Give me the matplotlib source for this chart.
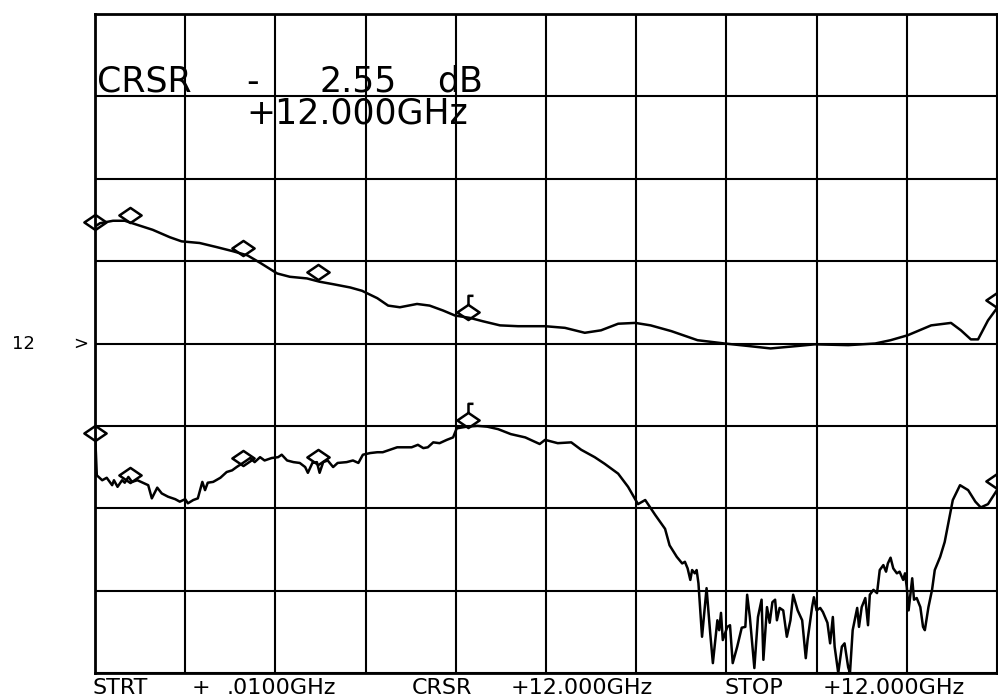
import numpy as np
import matplotlib
matplotlib.use("Agg")
import matplotlib.pyplot as plt
from matplotlib.path import Path

# screen is 10 x 8 divisions, values below are read in divisions
upper_x = [0.00, 0.055, 0.20, 0.33, 0.47, 0.64, 0.83, 0.96, 1.16, 1.35, 1.53, 1.69, 1.83, 2.02,
           2.16, 2.35, 2.49, 2.64, 2.83, 2.96, 3.13, 3.25, 3.38, 3.57, 3.71, 3.86, 3.99, 4.16,
           4.30, 4.49, 4.69, 4.99, 5.21, 5.43, 5.61, 5.80, 5.99, 6.16, 6.39, 6.68, 6.98, 7.24,
           7.49, 7.79, 7.98, 8.35, 8.65, 8.82, 9.01, 9.27, 9.49, 9.60, 9.71, 9.79, 9.90, 10.0]
upper_y = [5.42, 5.46, 5.49, 5.49, 5.44, 5.38, 5.29, 5.24, 5.22, 5.17, 5.12, 5.07, 4.98, 4.85,
           4.81, 4.79, 4.75, 4.72, 4.68, 4.64, 4.55, 4.46, 4.44, 4.48, 4.46, 4.40, 4.34, 4.31,
           4.27, 4.22, 4.21, 4.21, 4.19, 4.13, 4.16, 4.24, 4.25, 4.22, 4.15, 4.04, 4.00, 3.97,
           3.94, 3.97, 3.99, 3.98, 4.00, 4.04, 4.10, 4.22, 4.25, 4.16, 4.05, 4.05, 4.28, 4.43]

lower_x = [0.00, 0.01, 0.02, 0.08, 0.13, 0.19, 0.21, 0.25, 0.30, 0.33, 0.37, 0.41, 0.47, 0.53,
           0.59, 0.63, 0.69, 0.74, 0.81, 0.89, 0.94, 1.00, 1.03, 1.09, 1.14, 1.19, 1.22, 1.25,
           1.31, 1.39, 1.46, 1.52, 1.57, 1.64, 1.72, 1.77, 1.83, 1.88, 1.96, 2.03, 2.07, 2.13,
           2.20, 2.27, 2.33, 2.36, 2.41, 2.46, 2.49, 2.53, 2.58, 2.64, 2.69, 2.79, 2.86, 2.92,
           2.97, 3.05, 3.13, 3.19, 3.27, 3.35, 3.44, 3.51, 3.58, 3.64, 3.69, 3.75, 3.82, 3.90,
           3.97, 4.01, 4.12, 4.24, 4.35, 4.47, 4.61, 4.77, 4.93, 4.99, 5.13, 5.28, 5.39, 5.54,
           5.65, 5.80, 5.91, 6.02, 6.10, 6.21, 6.32,
           6.37, 6.45, 6.51, 6.54, 6.57, 6.60, 6.62, 6.65, 6.67, 6.69, 6.73, 6.76, 6.78, 6.82,
           6.85, 6.90, 6.92, 6.94, 6.96, 7.01, 7.04, 7.07, 7.12, 7.17, 7.21, 7.23, 7.26, 7.31,
           7.35, 7.39, 7.41, 7.45, 7.48, 7.51, 7.54, 7.56, 7.59, 7.63, 7.67, 7.71, 7.74, 7.79,
           7.84, 7.88, 7.90, 7.95, 7.97, 8.00, 8.04, 8.07, 8.12, 8.15, 8.18, 8.20, 8.24, 8.28,
           8.31, 8.35, 8.37, 8.40, 8.45, 8.47, 8.50, 8.54, 8.57, 8.59, 8.63, 8.67, 8.70, 8.74,
           8.77, 8.79, 8.82, 8.85, 8.89, 8.92, 8.96, 8.98, 9.00, 9.02, 9.06, 9.08, 9.11, 9.15,
           9.18, 9.20, 9.24, 9.28, 9.31, 9.37, 9.42,
           9.51, 9.59, 9.68, 9.76, 9.82, 9.90, 10.0]
lower_y = [2.91, 2.67, 2.40, 2.34, 2.37, 2.28, 2.34, 2.26, 2.34, 2.31, 2.38, 2.32, 2.34, 2.31,
           2.28, 2.12, 2.25, 2.18, 2.14, 2.11, 2.08, 2.11, 2.06, 2.10, 2.12, 2.32, 2.22, 2.31,
           2.32, 2.37, 2.44, 2.46, 2.50, 2.55, 2.61, 2.56, 2.62, 2.58, 2.61, 2.62, 2.65, 2.58,
           2.56, 2.55, 2.50, 2.43, 2.55, 2.56, 2.43, 2.56, 2.58, 2.50, 2.55, 2.56, 2.58, 2.55,
           2.65, 2.67, 2.68, 2.68, 2.71, 2.74, 2.74, 2.74, 2.77, 2.73, 2.74, 2.80, 2.79, 2.83,
           2.86, 2.97, 2.99, 3.00, 2.99, 2.96, 2.90, 2.86, 2.78, 2.83, 2.79, 2.80, 2.71, 2.62,
           2.54, 2.42, 2.26, 2.05, 2.10, 1.92, 1.75,
           1.55, 1.41, 1.33, 1.35, 1.27, 1.13, 1.25, 1.21, 1.25, 1.09, 0.44, 0.80, 1.03, 0.49,
           0.12, 0.64, 0.52, 0.73, 0.40, 0.56, 0.58, 0.12, 0.32, 0.55, 0.56, 0.95, 0.68, 0.06,
           0.68, 0.89, 0.16, 0.80, 0.61, 0.86, 0.89, 0.64, 0.79, 0.76, 0.44, 0.64, 0.95, 0.76,
           0.64, 0.18, 0.40, 0.80, 0.92, 0.76, 0.79, 0.74, 0.61, 0.36, 0.68, 0.32, 0.00, 0.32,
           0.36, 0.07, 0.00, 0.52, 0.79, 0.56, 0.80, 0.91, 0.58, 0.95, 1.01, 0.97, 1.25, 1.31,
           1.23, 1.33, 1.40, 1.27, 1.21, 1.23, 1.13, 1.21, 1.04, 0.76, 1.15, 0.89, 0.91, 0.80,
           0.56, 0.52, 0.80, 1.01, 1.25, 1.41, 1.59,
           2.10, 2.28, 2.22, 2.08, 2.01, 2.05, 2.22]

# markers
mark_x = [0.00, 0.39, 1.64, 2.47, 10.0]
mark_upper = [5.47, 5.56, 5.16, 4.87, 4.53]
mark_lower = [2.91, 2.40, 2.61, 2.62, 2.33]
cursor_x = [4.14, 4.14]
cursor_y = [4.38, 3.07]

fig = plt.figure(figsize=(9.98, 6.97), dpi=100)
ax = fig.add_axes([95/998, 24/697, 902/998, 659/697])
ax.set_xlim(0, 10)
ax.set_ylim(0, 8)
ax.set_xticks(np.arange(0, 11))
ax.set_yticks(np.arange(0, 9))
ax.tick_params(length=0, labelbottom=False, labelleft=False)
ax.grid(True, color="black", lw=1.5)
for s in ax.spines.values():
    s.set_linewidth(2.0)

ax.plot(upper_x, upper_y, color="black", lw=1.8)
ax.plot(lower_x, lower_y, color="black", lw=1.8)

diamond = Path([(-1, 0), (0, 0.68), (1, 0), (0, -0.68), (-1, 0)],
               [Path.MOVETO, Path.LINETO, Path.LINETO, Path.LINETO, Path.CLOSEPOLY])
cursor = Path([(-1, 0), (0, 0.68), (1, 0), (0, -0.68), (-1, 0), (0, 0.68), (0, 1.5), (0.45, 1.5)],
              [Path.MOVETO, Path.LINETO, Path.LINETO, Path.LINETO, Path.CLOSEPOLY,
               Path.MOVETO, Path.LINETO, Path.LINETO])
for my in (mark_upper, mark_lower):
    ax.plot(mark_x, my, ls="none", marker=diamond, ms=16, mfc="none", mec="black",
            mew=1.8, clip_on=False)
ax.plot(cursor_x, cursor_y, ls="none", marker=cursor, ms=16 * 1.5, mfc="none", mec="black",
        mew=1.8, clip_on=False)

W, H = 998, 697
def ftext(x, y, s, size):
    fig.text(x / W, 1 - y / H, s, fontsize=size, family="DejaVu Sans", va="baseline", ha="left")

ftext(97, 92, "CRSR", 25)
ftext(246, 92, "-", 25)
ftext(320, 92, "2.55", 25)
ftext(437, 92, "dB", 25)
ftext(246, 123, "+12.000GHz", 25)

ftext(12, 349, "12", 13)
ftext(73, 349, ">", 13)

ftext(92, 694, "STRT", 16)
ftext(192, 694, "+", 16)
ftext(227, 694, ".0100GHz", 16)
ftext(412, 694, "CRSR", 16)
ftext(511, 694, "+12.000GHz", 16)
ftext(725, 694, "STOP", 16)
ftext(823, 694, "+12.000GHz", 16)

fig.savefig("out.png", dpi=100)
